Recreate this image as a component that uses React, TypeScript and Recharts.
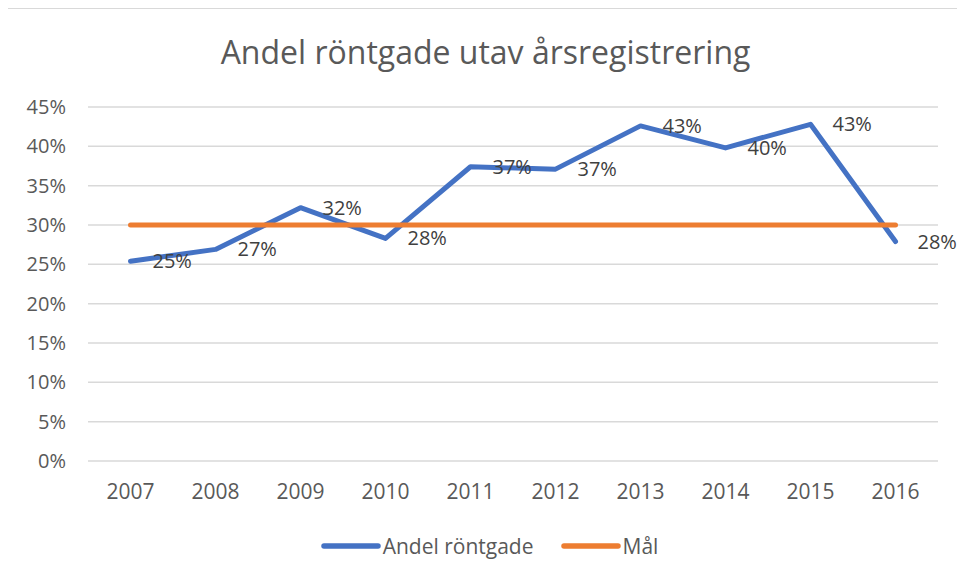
import React from "react";
import { LineChart, Line, XAxis, YAxis, CartesianGrid, Legend, LabelList } from "recharts";

const years = ["2007", "2008", "2009", "2010", "2011", "2012", "2013", "2014", "2015", "2016"];
const andelRontgade = [25.4, 26.9, 32.2, 28.3, 37.4, 37.1, 42.6, 39.8, 42.8, 27.9];
const mal = [30, 30, 30, 30, 30, 30, 30, 30, 30, 30];
const yTicks = [0, 5, 10, 15, 20, 25, 30, 35, 40, 45];

const title = "Andel röntgade utav årsregistrering";
const seriesNames = ["Andel röntgade", "Mål"];
const colors = ["#4472C4", "#ED7D31"];

const data = years.map((y, i) => ({ year: y, andel: andelRontgade[i], mal: mal[i] }));

const FONT = "'Open Sans', 'DejaVu Sans', sans-serif";
const W = 957;
const H = 571;

const DataLabel = (props: any) => {
  const { x, y, value } = props;
  return (
    <text x={x + 22} y={y + 7} fontSize={20} fontFamily={FONT} fill="#404040" textAnchor="start">
      {Math.round(value) + "%"}
    </text>
  );
};

const LegendContent = () => (
  <div style={{ display: "flex", justifyContent: "center", alignItems: "center", fontFamily: FONT, fontSize: 21, color: "#595959", paddingLeft: 6 }}>
    {seriesNames.map((n, i) => (
      <div key={n} style={{ display: "flex", alignItems: "center", marginRight: i === 0 ? 27 : 0 }}>
        <svg width={60} height={8} style={{ marginRight: 2 }}>
          <line x1={3} y1={4} x2={57} y2={4} stroke={colors[i]} strokeWidth={5.5} strokeLinecap="round" />
        </svg>
        <span style={{ lineHeight: "28px" }}>{n}</span>
      </div>
    ))}
  </div>
);

export default function App() {
  return (
    <div style={{ position: "relative", width: W, height: H, background: "#fff" }}>
      <div
        style={{
          position: "absolute",
          left: -1,
          top: 0,
          width: W + 1,
          height: H,
          borderLeft: "1.5px solid #d9d9d9",
          borderTop: "1.5px solid #d9d9d9",
          boxSizing: "border-box",
          pointerEvents: "none",
        }}
      />
      <svg width={W} height={80} style={{ position: "absolute", left: 0, top: 0 }}>
        <text x={W / 2 - 1} y={56} textAnchor="middle" fontSize={32} fontFamily={FONT} fill="#595959">
          {title}
        </text>
      </svg>
      <LineChart width={W} height={H} data={data} margin={{ top: 99, right: 27, bottom: 78, left: 0 }}>
        <CartesianGrid vertical={false} stroke="#d9d9d9" strokeWidth={1.5} />
        <XAxis
          dataKey="year"
          axisLine={false}
          tickLine={false}
          tickSize={0}
          tickMargin={23}
          height={40}
          interval={0}
          padding={{ left: 42.5, right: 42.5 }}
          tick={{ fontSize: 21, fontFamily: FONT, fill: "#595959" }}
        />
        <YAxis
          width={80}
          domain={[0, 45]}
          ticks={yTicks}
          interval={0}
          axisLine={false}
          tickLine={false}
          tickSize={0}
          tickMargin={22}
          tickFormatter={(v: number) => v + "%"}
          tick={{ fontSize: 20, fontFamily: FONT, fill: "#595959" }}
        />
        <Legend
          layout="horizontal"
          verticalAlign="middle"
          align="center"
          content={<LegendContent />}
          wrapperStyle={{ top: 524, left: 0, width: W, height: 28 }}
        />
        <Line
          type="linear"
          dataKey="andel"
          name={seriesNames[0]}
          stroke={colors[0]}
          strokeWidth={5}
          strokeLinecap="round"
          strokeLinejoin="round"
          dot={false}
          activeDot={false}
          isAnimationActive={false}
        >
          <LabelList dataKey="andel" content={<DataLabel />} />
        </Line>
        <Line
          type="linear"
          dataKey="mal"
          name={seriesNames[1]}
          stroke={colors[1]}
          strokeWidth={5}
          strokeLinecap="round"
          dot={false}
          activeDot={false}
          isAnimationActive={false}
        />
      </LineChart>
    </div>
  );
}
